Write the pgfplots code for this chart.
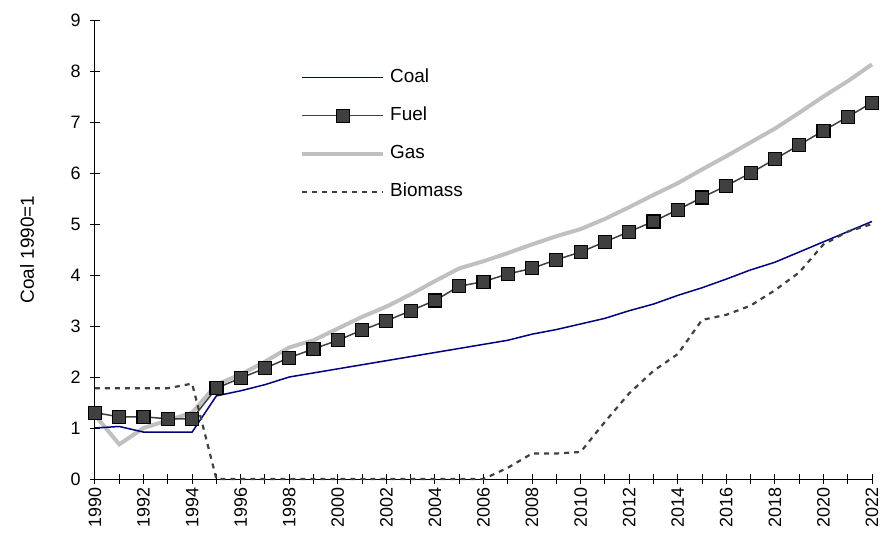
\documentclass[border=0pt]{standalone}
\usepackage{fontspec}
\setmainfont{Liberation Sans}
\usepackage{pgfplots}
\pgfplotsset{compat=1.18}
\usepackage{pgfplotstable}

\definecolor{coalblue}{RGB}{0,0,128}
\definecolor{fueldark}{RGB}{64,64,64}
\definecolor{gasgrey}{RGB}{192,192,192}
\definecolor{biodark}{RGB}{64,64,64}

% year  coal  fuel  gas  biomass
\pgfplotstableread{
year coal fuel gas bio
1990 1.00 1.30 1.25 1.78
1991 1.03 1.22 0.68 1.78
1992 0.92 1.22 1.00 1.78
1993 0.92 1.18 1.15 1.78
1994 0.92 1.18 1.30 1.87
1995 1.63 1.78 1.85 0.00
1996 1.73 1.98 2.05 0.00
1997 1.85 2.17 2.30 0.00
1998 2.00 2.38 2.58 0.00
1999 2.08 2.55 2.72 0.00
2000 2.16 2.72 2.95 0.00
2001 2.24 2.92 3.18 0.00
2002 2.32 3.10 3.38 0.00
2003 2.40 3.30 3.62 0.00
2004 2.48 3.50 3.88 0.00
2005 2.56 3.78 4.13 0.00
2006 2.64 3.87 4.27 0.00
2007 2.72 4.02 4.43 0.22
2008 2.84 4.13 4.60 0.50
2009 2.93 4.30 4.76 0.50
2010 3.04 4.45 4.90 0.53
2011 3.15 4.65 5.10 1.12
2012 3.30 4.85 5.33 1.68
2013 3.43 5.05 5.57 2.12
2014 3.60 5.28 5.80 2.45
2015 3.75 5.52 6.07 3.12
2016 3.92 5.75 6.33 3.22
2017 4.10 6.00 6.60 3.40
2018 4.25 6.27 6.87 3.70
2019 4.45 6.55 7.18 4.05
2020 4.65 6.83 7.50 4.60
2021 4.85 7.10 7.80 4.85
2022 5.05 7.38 8.13 5.00
}\energydata

\begin{document}
\begin{tikzpicture}
\path[use as bounding box] (-95bp,-65bp) rectangle (788bp,479bp);
\begin{axis}[
  scale only axis,
  width=777bp, height=459bp,
  xmin=1990, xmax=2022,
  ymin=0, ymax=9,
  clip=false,
  axis x line=bottom, axis y line=left,
  axis line style={-, black, line width=1bp},
  xtick={1990,1992,...,2022},
  minor xtick={1991,1993,...,2021},
  ytick={0,1,...,9},
  tick align=center,
  major tick length=10bp,
  minor tick length=10bp,
  tick style={black, line width=1bp},
  minor tick style={black, line width=1bp},
  /pgf/number format/assume math mode=true,
  /pgf/number format/1000 sep={},
  xticklabel style={font=\fontsize{18}{20}\selectfont, rotate=90, anchor=east},
  yticklabel style={font=\fontsize{18}{20}\selectfont, xshift=-6bp},
  ylabel={Coal 1990=1},
  ylabel style={font=\fontsize{19}{22}\selectfont, at={(-68bp,229.5bp)}, anchor=center, rotate=0},
  legend cell align=left,
  legend image code/.code={%
    \draw[mark repeat=2, mark phase=2, #1] plot coordinates {(0bp,0bp) (40.5bp,0bp) (81bp,0bp)};},
  legend style={
    draw=none, fill=none,
    at={(205bp,411bp)}, anchor=north west,
    inner sep=0pt,
    font=\fontsize{19}{22}\selectfont,
    nodes={inner sep=0pt, text height=14bp, text depth=5bp},
    row sep=19bp, column sep=5bp,
  },
]
% legend entries listed in their display order
\addlegendimage{coalblue, line width=1.5bp}
\addlegendentry{Coal}
\addlegendimage{fueldark, line width=1.5bp, mark=square*, mark size=6.5bp,
  mark options={fill=fueldark, draw=black, line width=1.2bp}}
\addlegendentry{Fuel}
\addlegendimage{gasgrey, line width=4bp}
\addlegendentry{Gas}
\addlegendimage{biodark, line width=2.2bp, dash pattern=on 5bp off 5bp}
\addlegendentry{Biomass}

% gas drawn first so the fuel markers sit on top of it
\addplot[forget plot, gasgrey, line width=4bp] table[x=year, y=gas] {\energydata};
\addplot[forget plot, coalblue, line width=1.5bp] table[x=year, y=coal] {\energydata};
\addplot[forget plot, fueldark, line width=1.5bp, mark=square*, mark size=6.5bp,
  mark options={fill=fueldark, draw=black, line width=1.2bp}] table[x=year, y=fuel] {\energydata};
\addplot[forget plot, biodark, line width=2.2bp, dash pattern=on 5bp off 5bp] table[x=year, y=bio] {\energydata};
\end{axis}
\end{tikzpicture}
\end{document}
